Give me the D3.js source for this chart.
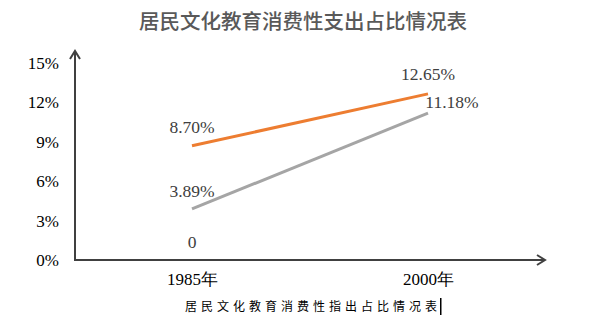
<!DOCTYPE html>
<html><head><meta charset="utf-8">
<script src="https://cdn.jsdelivr.net/npm/d3@7"></script>
<style>body{margin:0;background:#fff}svg{display:block}</style>
</head><body>
<svg id="c" width="615" height="322"></svg>
<script>
const years = ["1985年", "2000年"];
const yTicks = [0, 3, 6, 9, 12, 15];
const orangeSeries = [8.70, 12.65];
const graySeries = [3.89, 11.18];
const zeroSeries = [0];

const svg = d3.select("#c");
const x = d3.scalePoint().domain(years).range([192, 428]);
const y = d3.scaleLinear().domain([0, 15]).range([260, 63]);
const serif = "'Liberation Serif','Times New Roman',serif";
const axisColor = "#404040";

// title
svg.append("text").attr("x", 303).attr("y", 29).attr("text-anchor", "middle")
  .attr("font-family", "'Noto Sans CJK SC',sans-serif").attr("font-weight", 500)
  .attr("font-size", 20.5).attr("fill", "#595959").text("居民文化教育消费性支出占比情况表");

// y tick labels
const yAxis = d3.axisLeft(y).tickValues(yTicks).tickFormat(d => d + "%").tickSize(0).tickPadding(0);
const gy = svg.append("g").attr("transform", "translate(59,0)").call(yAxis);
gy.select(".domain").remove();
gy.selectAll("text").attr("font-family", serif).attr("font-size", 17).attr("fill", "#000");

// x labels
const xAxis = d3.axisBottom(x).tickSize(0).tickPadding(0);
const gx = svg.append("g").attr("transform", "translate(0,273)").call(xAxis);
gx.select(".domain").remove();
gx.selectAll("text").attr("font-family", serif).attr("font-size", 17).attr("fill", "#000");

// axis lines with open arrowheads
svg.append("path").attr("d", `M75,${y(0)}V51`).attr("stroke", axisColor).attr("stroke-width", 2).attr("fill", "none");
svg.append("path").attr("d", `M70,59L75,51L80,59`).attr("stroke", axisColor).attr("stroke-width", 2).attr("fill", "none");
svg.append("path").attr("d", `M74,${y(0)}H545`).attr("stroke", axisColor).attr("stroke-width", 2).attr("fill", "none");
svg.append("path").attr("d", `M537,${y(0)-5}L545,${y(0)}L537,${y(0)+5}`).attr("stroke", axisColor).attr("stroke-width", 2).attr("fill", "none");

// lines
const line = d3.line().x((d, i) => x(years[i])).y(d => y(d));
svg.append("path").datum(orangeSeries).attr("d", line).attr("stroke", "#ED7D31").attr("stroke-width", 3).attr("fill", "none");
svg.append("path").datum(graySeries).attr("d", line).attr("stroke", "#A5A5A5").attr("stroke-width", 3).attr("fill", "none");

// data labels
function label(v, i, dx, dy, txt) {
  svg.append("text").attr("x", x(years[i]) + dx).attr("y", y(v) + dy)
    .attr("text-anchor", "middle").attr("font-family", serif).attr("font-size", 17.5)
    .attr("fill", "#404040").text(txt);
}
label(orangeSeries[0], 0, 0, -13, orangeSeries[0].toFixed(2) + "%");
label(orangeSeries[1], 1, 0, -14, orangeSeries[1].toFixed(2) + "%");
label(graySeries[0], 0, 0, -12, graySeries[0].toFixed(2) + "%");
label(graySeries[1], 1, 24, -5, graySeries[1].toFixed(2) + "%");
label(zeroSeries[0], 0, 0, -12, String(zeroSeries[0]));

// caption
svg.append("text").attr("x", 185).attr("y", 311)
  .attr("font-family", "'Noto Sans CJK SC',sans-serif").attr("font-size", 12)
  .attr("letter-spacing", 4).attr("fill", "#000").text("居民文化教育消费性指出占比情况表");
svg.append("rect").attr("x", 440).attr("y", 298).attr("width", 1.5).attr("height", 17).attr("fill", "#000");
</script>
</body></html>
